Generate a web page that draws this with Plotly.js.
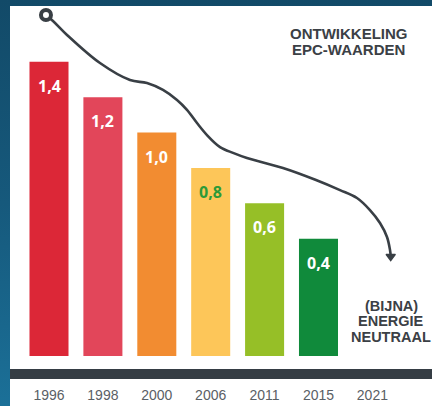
<!DOCTYPE html>
<html>
<head>
<meta charset="utf-8">
<script src="https://cdn.plot.ly/plotly-3.0.1.min.js"></script>
<style>
  html, body { margin: 0; padding: 0; }
  body { width: 432px; height: 406px; background: linear-gradient(to bottom, #124a68 0%, #16597c 50%, #1b7098 100%); }
  #chart { width: 432px; height: 406px; }
</style>
</head>
<body>
<div id="chart"></div>
<script>
// ---- data ----
const years = ['1996', '1998', '2000', '2006', '2011', '2015', '2021'];
const epcValues = [1.4, 1.2, 1.0, 0.8, 0.6, 0.4, null];
const barColors = ['#dc2737', '#e2465a', '#f28c31', '#fdc659', '#96bf27', '#108a3b', '#ffffff'];
const labelColors = ['#ffffff', '#ffffff', '#ffffff', '#2c9a38', '#ffffff', '#ffffff', '#ffffff'];
// decorative trend curve (x in year-slot units, y in EPC units)
const trendX = [-0.056, 0.074, 0.334, 0.946, 1.503, 1.818, 2.115, 2.375, 2.560, 2.746, 2.931, 3.173, 3.414, 3.673, 4.341, 4.954, 5.399, 5.714, 5.955, 6.141, 6.271, 6.327, 6.340];
const trendY = [1.665, 1.631, 1.552, 1.393, 1.297, 1.280, 1.241, 1.184, 1.128, 1.054, 0.986, 0.918, 0.885, 0.856, 0.800, 0.732, 0.675, 0.630, 0.562, 0.489, 0.410, 0.336, 0.300];
const titleLines = ['ONTWIKKELING', 'EPC-WAARDEN'];
const endLines = ['(BIJNA)', 'ENERGIE', 'NEUTRAAL'];

// ---- layout constants ----
const FLOOR = -0.263;          // visual baseline of the bars
const Y_TOP = FLOOR + 350 / 176.9;
const idx = years.map((_, i) => i);
const fmt = v => v.toFixed(1).replace('.', ',');

const bars = {
  type: 'bar',
  x: idx,
  y: epcValues.map(v => v === null ? null : v - FLOOR),
  base: FLOOR,
  width: 0.724,
  marker: { color: barColors, line: { width: 0 } },
  hoverinfo: 'skip',
  showlegend: false
};

const curve = {
  type: 'scatter', mode: 'lines',
  x: trendX, y: trendY,
  line: { color: '#393f45', width: 2.6, shape: 'spline', smoothing: 1 },
  hoverinfo: 'skip', showlegend: false, cliponaxis: false
};
const startDot = {
  type: 'scatter', mode: 'markers',
  x: [trendX[0]], y: [trendY[0]],
  marker: { symbol: 'circle', size: 10, color: '#ffffff', line: { color: '#393f45', width: 4 } },
  hoverinfo: 'skip', showlegend: false, cliponaxis: false
};
const arrowHead = {
  type: 'scatter', mode: 'markers',
  x: [trendX[trendX.length - 1]], y: [trendY[trendY.length - 1]],
  marker: { symbol: 'triangle-down', size: 8, color: '#393f45', line: { color: '#393f45', width: 1.5 } },
  hoverinfo: 'skip', showlegend: false, cliponaxis: false
};

const annotations = [];
epcValues.forEach((v, i) => {
  if (v === null) return;
  annotations.push({
    x: i, y: v, xref: 'x', yref: 'y',
    text: '<b>' + fmt(v) + '</b>',
    showarrow: false, yanchor: 'top', xanchor: 'center', yshift: -11,
    font: { family: 'Open Sans, sans-serif', size: 16, color: labelColors[i] }
  });
});
const titleY = [0.920, 0.8757];
titleLines.forEach((t, k) => annotations.push({
  xref: 'paper', yref: 'paper', x: 0.803, y: titleY[k],
  xanchor: 'center', yanchor: 'middle', showarrow: false,
  text: '<b>' + t + '</b>',
  font: { family: 'Liberation Sans, Arial, sans-serif', size: 15, color: '#3b4045' }
}));
const endY = [0.1429, 0.0986, 0.0543];
endLines.forEach((t, k) => annotations.push({
  xref: 'paper', yref: 'paper', x: 0.903, y: endY[k],
  xanchor: 'center', yanchor: 'middle', showarrow: false,
  text: '<b>' + t + '</b>',
  font: { family: 'Liberation Sans, Arial, sans-serif', size: 14.5, color: '#3b4045' }
}));

const layout = {
  width: 432, height: 406,
  margin: { l: 10, r: 0, t: 6, b: 50, pad: 0 },
  paper_bgcolor: 'rgba(0,0,0,0)',
  plot_bgcolor: '#ffffff',
  showlegend: false,
  xaxis: {
    type: 'linear',
    range: [-0.7236, 7.106],
    tickvals: idx, ticktext: years,
    ticks: 'outside', ticklen: 26, tickcolor: 'rgba(0,0,0,0)',
    showgrid: false, zeroline: false, showline: false, fixedrange: true,
    tickfont: { family: 'Liberation Sans, Arial, sans-serif', size: 14, color: '#5a6065' }
  },
  yaxis: {
    range: [FLOOR, Y_TOP], visible: false, showgrid: false, zeroline: false, fixedrange: true
  },
  shapes: [
    { type: 'rect', xref: 'paper', yref: 'paper', x0: 0, x1: 1, y0: -0.1429, y1: 1,
      fillcolor: '#ffffff', line: { width: 0 }, layer: 'below' },
    { type: 'rect', xref: 'paper', yref: 'paper', x0: 0, x1: 1, y0: -0.0657, y1: -0.0371,
      fillcolor: '#353d44', line: { width: 0 }, layer: 'above' }
  ],
  annotations: annotations
};

Plotly.newPlot('chart', [bars, curve, startDot, arrowHead], layout, { displayModeBar: false, staticPlot: true });
</script>
</body>
</html>
